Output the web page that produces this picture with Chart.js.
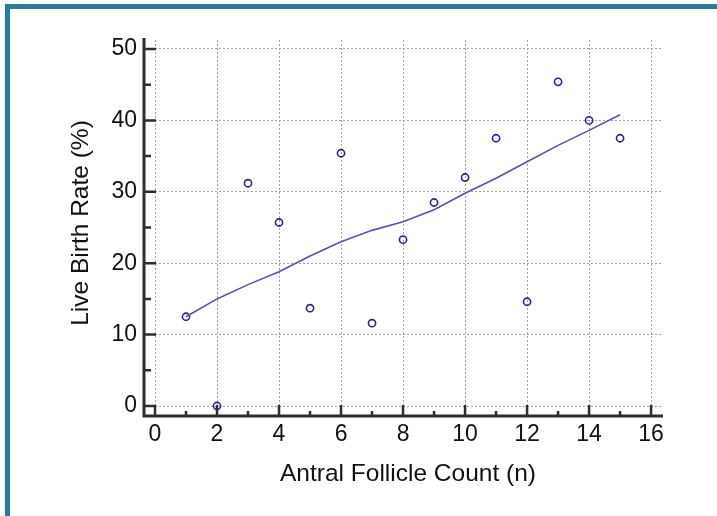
<!DOCTYPE html>
<html>
<head>
<meta charset="utf-8">
<script src="https://cdn.jsdelivr.net/npm/chart.js@4"></script>
<style>
  html, body { margin: 0; padding: 0; background: #fff; }
  #wrap { position: relative; width: 717px; height: 516px; overflow: hidden; }
  #frame {
    position: absolute; left: 5px; top: 4px; width: 740px; height: 540px;
    border-left: 5px solid #2b7c97; border-top: 5px solid #2b7c97;
    box-sizing: border-box;
  }
  #chart { position: absolute; left: 0; top: 0; }
</style>
</head>
<body>
<div id="wrap">
  <div id="frame"></div>
  <canvas id="chart" width="717" height="516"></canvas>
</div>
<script>
// antral follicle count (n)
const follicleCounts = [1, 2, 3, 4, 5, 6, 7, 8, 9, 10, 11, 12, 13, 14, 15];
// live birth rate (%) per count
const birthRates = [12.5, 0, 31.2, 25.7, 13.7, 35.4, 11.6, 23.3, 28.5, 32.0, 37.5, 14.6, 45.4, 40.0, 37.5];
// smoothed trend line
const trendRates = [12.5, 15.0, 17.0, 18.8, 21.0, 23.0, 24.6, 25.8, 27.5, 29.8, 31.9, 34.2, 36.5, 38.6, 40.8];
// tick labels
const xTicks = [0, 2, 4, 6, 8, 10, 12, 14, 16];
const yTicks = [0, 10, 20, 30, 40, 50];

const FONT = "'Liberation Sans', Arial, sans-serif";
const AXIS_COLOR = "#2e2e2e";

// draws the offset black axes with inward tick marks
const axesPlugin = {
  id: "offsetAxes",
  afterDraw(chart) {
    const ctx = chart.ctx;
    const xs = chart.scales.x;
    const ys = chart.scales.y;
    const area = chart.chartArea;
    const axX = area.left - 11;   // y axis line position
    const axY = area.bottom + 10; // x axis line position
    ctx.save();
    ctx.strokeStyle = AXIS_COLOR;
    ctx.lineWidth = 3;
    ctx.lineCap = "butt";
    ctx.beginPath();
    ctx.moveTo(axX, area.top - 2);
    ctx.lineTo(axX, axY + 1.5);
    ctx.moveTo(axX - 1.5, axY);
    ctx.lineTo(area.right + 2, axY);
    ctx.stroke();

    ctx.lineWidth = 2.5;
    ctx.beginPath();
    // y ticks, major + minor
    yTicks.forEach((v, i) => {
      const py = ys.getPixelForValue(v);
      ctx.moveTo(axX, py);
      ctx.lineTo(area.left + 1, py);
      if (i < yTicks.length - 1) {
        const pm = ys.getPixelForValue((v + yTicks[i + 1]) / 2);
        ctx.moveTo(axX, pm);
        ctx.lineTo(axX + 7, pm);
      }
    });
    // x ticks, major + minor
    xTicks.forEach((v, i) => {
      const px = xs.getPixelForValue(v);
      ctx.moveTo(px, axY);
      ctx.lineTo(px, area.bottom - 1);
      if (i < xTicks.length - 1) {
        const pm = xs.getPixelForValue((v + xTicks[i + 1]) / 2);
        ctx.moveTo(pm, axY);
        ctx.lineTo(pm, axY - 5);
      }
    });
    ctx.stroke();
    ctx.restore();
  }
};

const gridOpts = { color: "#a0a0a0", lineWidth: 1, drawTicks: false };
const borderOpts = { display: false, dash: [2, 2] };

new Chart(document.getElementById("chart"), {
  type: "scatter",
  plugins: [axesPlugin],
  data: {
    datasets: [
      {
        type: "line",
        data: follicleCounts.map((x, i) => ({ x: x, y: trendRates[i] })),
        borderColor: "#5656a8",
        borderWidth: 1.6,
        pointRadius: 0,
        tension: 0,
        fill: false,
      },
      {
        data: follicleCounts.map((x, i) => ({ x: x, y: birthRates[i] })),
        borderColor: "#25258a",
        backgroundColor: "rgba(255,255,255,0)",
        borderWidth: 1.6,
        pointRadius: 3.6,
        clip: false,
      },
    ],
  },
  options: {
    responsive: false,
    animation: false,
    layout: { padding: { left: 0, top: 40, right: 56, bottom: 0 } },
    plugins: {
      legend: { display: false },
      tooltip: { enabled: false },
    },
    scales: {
      x: {
        type: "linear",
        min: 0,
        max: 16.32,
        grid: gridOpts,
        border: borderOpts,
        afterBuildTicks: (s) => { s.ticks = xTicks.map(v => ({ value: v })); },
        afterFit: (s) => { s.height = 110; },
        ticks: {
          padding: 15,
          color: "#111",
          maxRotation: 0,
          font: { family: FONT, size: 23 },
        },
        title: {
          display: true,
          text: "Antral Follicle Count (n)",
          color: "#111",
          padding: { top: 0, bottom: 27 },
          font: { family: FONT, size: 24.5 },
        },
      },
      y: {
        type: "linear",
        min: 0,
        max: 51.26,
        grid: gridOpts,
        border: borderOpts,
        afterBuildTicks: (s) => { s.ticks = yTicks.map(v => ({ value: v })); },
        afterFit: (s) => { s.width = 155; },
        ticks: {
          padding: 18,
          color: "#111",
          font: { family: FONT, size: 23 },
        },
        title: {
          display: true,
          text: "Live Birth Rate (%)",
          color: "#111",
          padding: { top: 67, bottom: 0 },
          font: { family: FONT, size: 24.5 },
        },
      },
    },
  },
});
</script>
</body>
</html>
